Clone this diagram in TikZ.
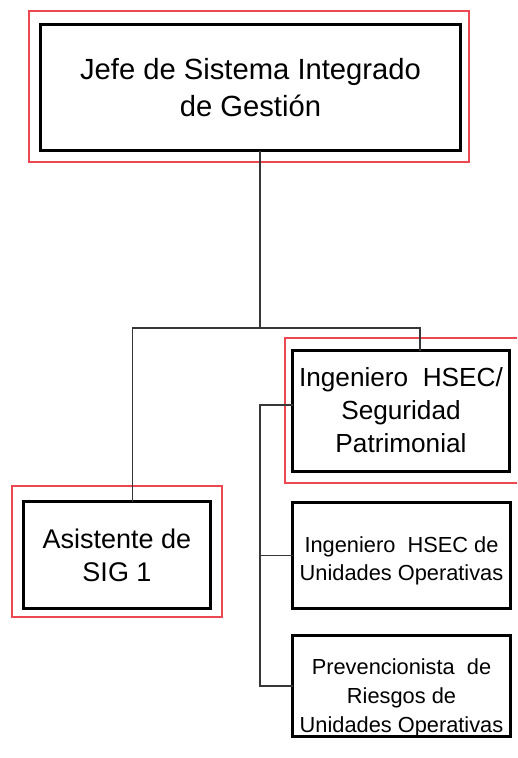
\documentclass[tikz,border=0pt]{standalone}
\usepackage{fontspec}
\setmainfont{Liberation Sans}
\definecolor{frame}{RGB}{236,72,82}
\definecolor{conncol}{RGB}{55,55,55}
\tikzset{
  box/.style={draw=black, line width=3pt, fill=white, inner sep=0pt, outer sep=0pt},
  redframe/.style={draw=frame, line width=1.1pt, inner sep=0pt, outer sep=0pt},
  conn/.style={draw=conncol, line width=1.3pt},
  lbl/.style={align=center, inner sep=0pt}
}
\begin{document}
\begin{tikzpicture}[x=1pt,y=-1pt]
\clip (0,0) rectangle (517,758);
\fill[white] (0,0) rectangle (517,758);
% red frames
\node[redframe, minimum width=440pt, minimum height=151pt] (jefered) at (249,86.5) {};
\node[redframe, minimum width=240pt, minimum height=145pt] (ingred) at (405,410.5) {};
\node[redframe, minimum width=210pt, minimum height=131pt] (asisred) at (117,551.5) {};
% connectors
\coordinate (bus) at (260,328);
\coordinate (busl) at (132.5,328);
\coordinate (busr) at (420,328);
\coordinate (spine) at (260,405);
% boxes
\node[box, minimum width=420pt, minimum height=126pt, font=\fontsize{29.2}{37}\selectfont, lbl] (jefe) at (250.5,87.5) {Jefe de Sistema Integrado\\de Gestión};
\node[box, minimum width=217pt, minimum height=121pt] (ing) at (401,411) {};
\node[box, minimum width=187pt, minimum height=107pt, font=\fontsize{27}{33}\selectfont, lbl] (asis) at (117,555) {Asistente de\\SIG 1};
\node[box, minimum width=218pt, minimum height=106pt] (uo) at (401.5,555.5) {};
\node[box, minimum width=218pt, minimum height=101pt] (prev) at (401.5,686) {};
\draw[conn] (jefe.south -| bus) -- (bus);
\draw[conn] (asis.north -| busl) -- (busl) -- (busr) -- (ing.north -| busr);
\draw[conn] (ing.west |- spine) -- (spine) -- (spine |- prev.west) -- (prev.west);
\draw[conn] (spine |- uo.west) -- (uo.west);
% texts
\node[lbl, font=\fontsize{26.2}{33}\selectfont] (ingtext) at (401,410) {Ingeniero~ HSEC/\\Seguridad\\Patrimonial};
\node[lbl, font=\fontsize{21.8}{28.5}\selectfont] (uotext) at (401.5,561) {Ingeniero~ HSEC de\\Unidades Operativas};
\node[lbl, font=\fontsize{21.8}{29}\selectfont] (prevtext) at (401.5,698) {Prevencionista~ de\\Riesgos de\\Unidades Operativas};
\end{tikzpicture}
\end{document}
